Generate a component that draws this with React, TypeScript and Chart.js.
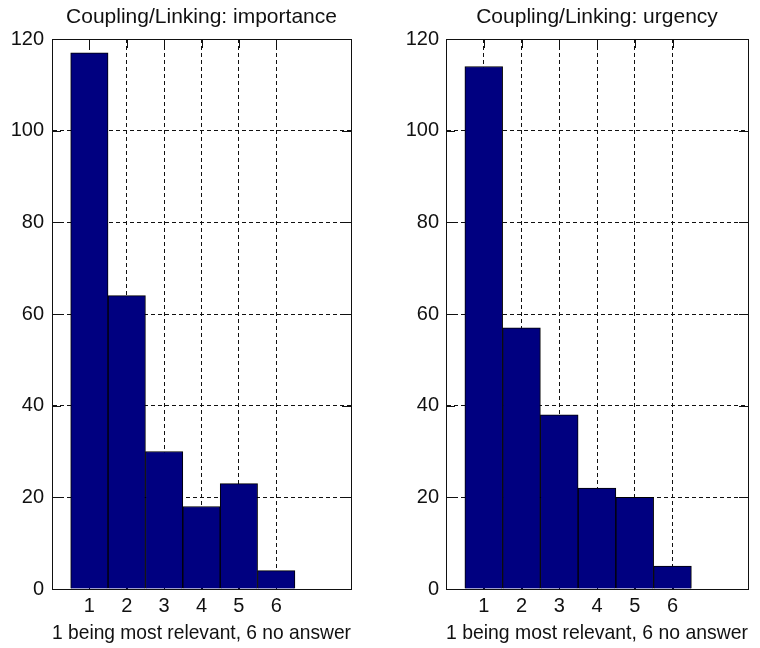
import React, { useEffect, useRef } from "react";
import { Chart, registerables } from "chart.js";

Chart.register(...registerables);

const categories = [1, 2, 3, 4, 5, 6];
const importanceValues = [117, 64, 30, 18, 23, 4];
const urgencyValues = [114, 57, 38, 22, 20, 5];
const yTickValues = [0, 20, 40, 60, 80, 100, 120];
const titles = ["Coupling/Linking: importance", "Coupling/Linking: urgency"];
const xAxisLabel = "1 being most relevant, 6 no answer";

const FONT = "'Liberation Sans', Arial, Helvetica, sans-serif";
const INK = "#111";
const TICK_LEN = 9;

const frameAndTitle = (title: string) => ({
  id: "frameAndTitle",
  beforeDatasetsDraw(chart: any) {
    const { ctx, chartArea: a, scales } = chart;
    ctx.save();
    ctx.strokeStyle = INK;
    ctx.lineWidth = 1;
    ctx.beginPath();
    scales.x.ticks.forEach((t: any) => {
      const px = Math.round(scales.x.getPixelForValue(t.value)) + 0.5;
      ctx.moveTo(px, a.top);
      ctx.lineTo(px, a.top + TICK_LEN);
      ctx.moveTo(px, a.bottom);
      ctx.lineTo(px, a.bottom - TICK_LEN);
    });
    scales.y.ticks.forEach((t: any) => {
      const py = Math.round(scales.y.getPixelForValue(t.value)) + 0.5;
      ctx.moveTo(a.left, py);
      ctx.lineTo(a.left + TICK_LEN, py);
      ctx.moveTo(a.right, py);
      ctx.lineTo(a.right - TICK_LEN, py);
    });
    ctx.stroke();
    ctx.restore();
  },
  afterDatasetsDraw(chart: any) {
    const { ctx, chartArea: a } = chart;
    ctx.save();
    ctx.strokeStyle = INK;
    ctx.lineWidth = 1;
    ctx.strokeRect(
      Math.round(a.left) + 0.5,
      Math.round(a.top) + 0.5,
      Math.round(a.right - a.left),
      Math.round(a.bottom - a.top)
    );
    ctx.fillStyle = INK;
    ctx.font = `21px ${FONT}`;
    ctx.textAlign = "center";
    ctx.textBaseline = "middle";
    ctx.fillText(title, (a.left + a.right) / 2, 17);
    ctx.restore();
  },
});

function Panel(props: {
  title: string;
  values: number[];
  left: number;
  yAxisWidth: number;
  padRight: number;
  yLabelPad: number;
}) {
  const ref = useRef<HTMLCanvasElement>(null);
  useEffect(() => {
    if (!ref.current) return;
    const chart = new Chart(ref.current, {
      type: "bar",
      data: {
        datasets: [
          {
            data: categories.map((c, i) => ({ x: c, y: props.values[i] })) as any,
            backgroundColor: "#000080",
            borderColor: "#000",
            borderWidth: 1,
            barPercentage: 1,
            categoryPercentage: 1,
          },
        ],
      },
      options: {
        animation: false,
        responsive: false,
        maintainAspectRatio: false,
        layout: { padding: { left: 0, right: props.padRight, top: 39, bottom: 0 } },
        plugins: { legend: { display: false }, tooltip: { enabled: false }, title: { display: false } },
        scales: {
          x: {
            type: "linear",
            min: 0,
            max: 8,
            offset: false,
            afterBuildTicks: (s: any) => {
              s.ticks = categories.map((v) => ({ value: v }));
            },
            afterFit: (s: any) => {
              s.height = 59;
            },
            grid: { color: INK, lineWidth: 1, drawTicks: false, offset: false },
            border: { display: true, color: INK, width: 1, dash: [4, 3] },
            ticks: {
              color: INK,
              padding: 5,
              font: { family: FONT, size: 20 },
              maxRotation: 0,
              autoSkip: false,
            },
            title: {
              display: true,
              text: xAxisLabel,
              color: INK,
              font: { family: FONT, size: 21 },
              padding: { top: 0, bottom: 2 },
            },
          },
          y: {
            min: 0,
            max: 120,
            afterBuildTicks: (s: any) => {
              s.ticks = yTickValues.map((v) => ({ value: v }));
            },
            afterFit: (s: any) => {
              s.width = props.yAxisWidth;
            },
            grid: { color: INK, lineWidth: 1, drawTicks: false },
            border: { display: true, color: INK, width: 1, dash: [4, 3] },
            ticks: {
              color: INK,
              padding: props.yLabelPad,
              font: { family: FONT, size: 20 },
            },
          },
        },
      },
      plugins: [frameAndTitle(props.title)],
    });
    return () => chart.destroy();
  }, []);
  return (
    <canvas
      ref={ref}
      width={380}
      height={648}
      style={{ position: "absolute", left: props.left, top: 0, width: 380, height: 648 }}
    />
  );
}

export default function App() {
  return (
    <div
      style={{
        position: "fixed",
        left: 0,
        top: 0,
        width: 760,
        height: 648,
        background: "#fff",
      }}
    >
      <Panel title={titles[0]} values={importanceValues} left={0} yAxisWidth={52} padRight={29} yLabelPad={8} />
      <Panel title={titles[1]} values={urgencyValues} left={380} yAxisWidth={66} padRight={12} yLabelPad={7} />
    </div>
  );
}
